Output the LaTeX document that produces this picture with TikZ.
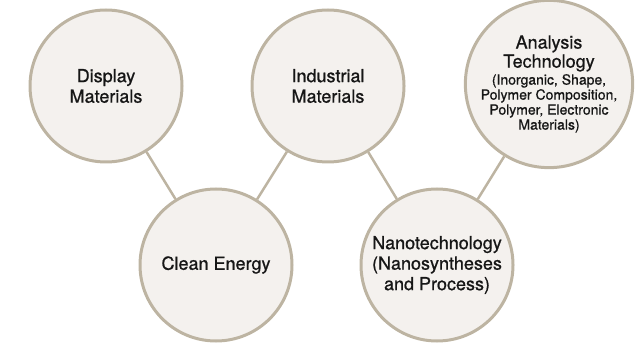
\documentclass[tikz,border=0pt]{standalone}
\usepackage{fontspec}
\setmainfont{TeX Gyre Heros}
\newfontfamily\heros[FakeBold=0.8]{TeX Gyre Heros}
\usepackage{tikz}
\usetikzlibrary{backgrounds}
\definecolor{taupe}{HTML}{BDB4A2}
\definecolor{shell}{HTML}{F4F1EE}
\definecolor{ink}{HTML}{161616}
\tikzset{
  % ämnen
  topic/.style={circle,draw=taupe,fill=shell,line width=3pt,inner sep=0pt,
             minimum size=152pt,align=center,text=ink,
             font=\heros\fontsize{18}{20.5}\selectfont},
  small/.style={minimum size=149pt,font=\heros\fontsize{14}{15}\selectfont},
  link/.style={draw=taupe,line width=2.5pt},
}
\newcommand{\titel}{\fontsize{18}{19}\selectfont}

\begin{document}
\begin{tikzpicture}[x=1pt,y=-1pt]
  \useasboundingbox (0,0) rectangle (636,344);
  \node[topic] (display) at (106,86) {Display\\Materials};
  \node[topic] (industri) at (328,86) {Industrial\\Materials};
  \node[topic,small] (analys) at (549,84)
    {{\titel Analysis}\\[1pt]{\titel Technology}\\[2pt]
     (Inorganic, Shape,\\Polymer Composition,\\Polymer, Electronic\\Materials)};
  \node[topic] (energi) at (216,265) {Clean Energy};
  \node[topic] (nano) at (437,265) {Nanotechnology\\(Nanosyntheses\\and Process)};
  \begin{scope}[on background layer]
  \draw[link] (display) -- (energi);
  \draw[link] (industri) -- (energi);
  \draw[link] (industri) -- (nano);
  \draw[link] (analys) -- (nano);
  \end{scope}
\end{tikzpicture}
\end{document}
